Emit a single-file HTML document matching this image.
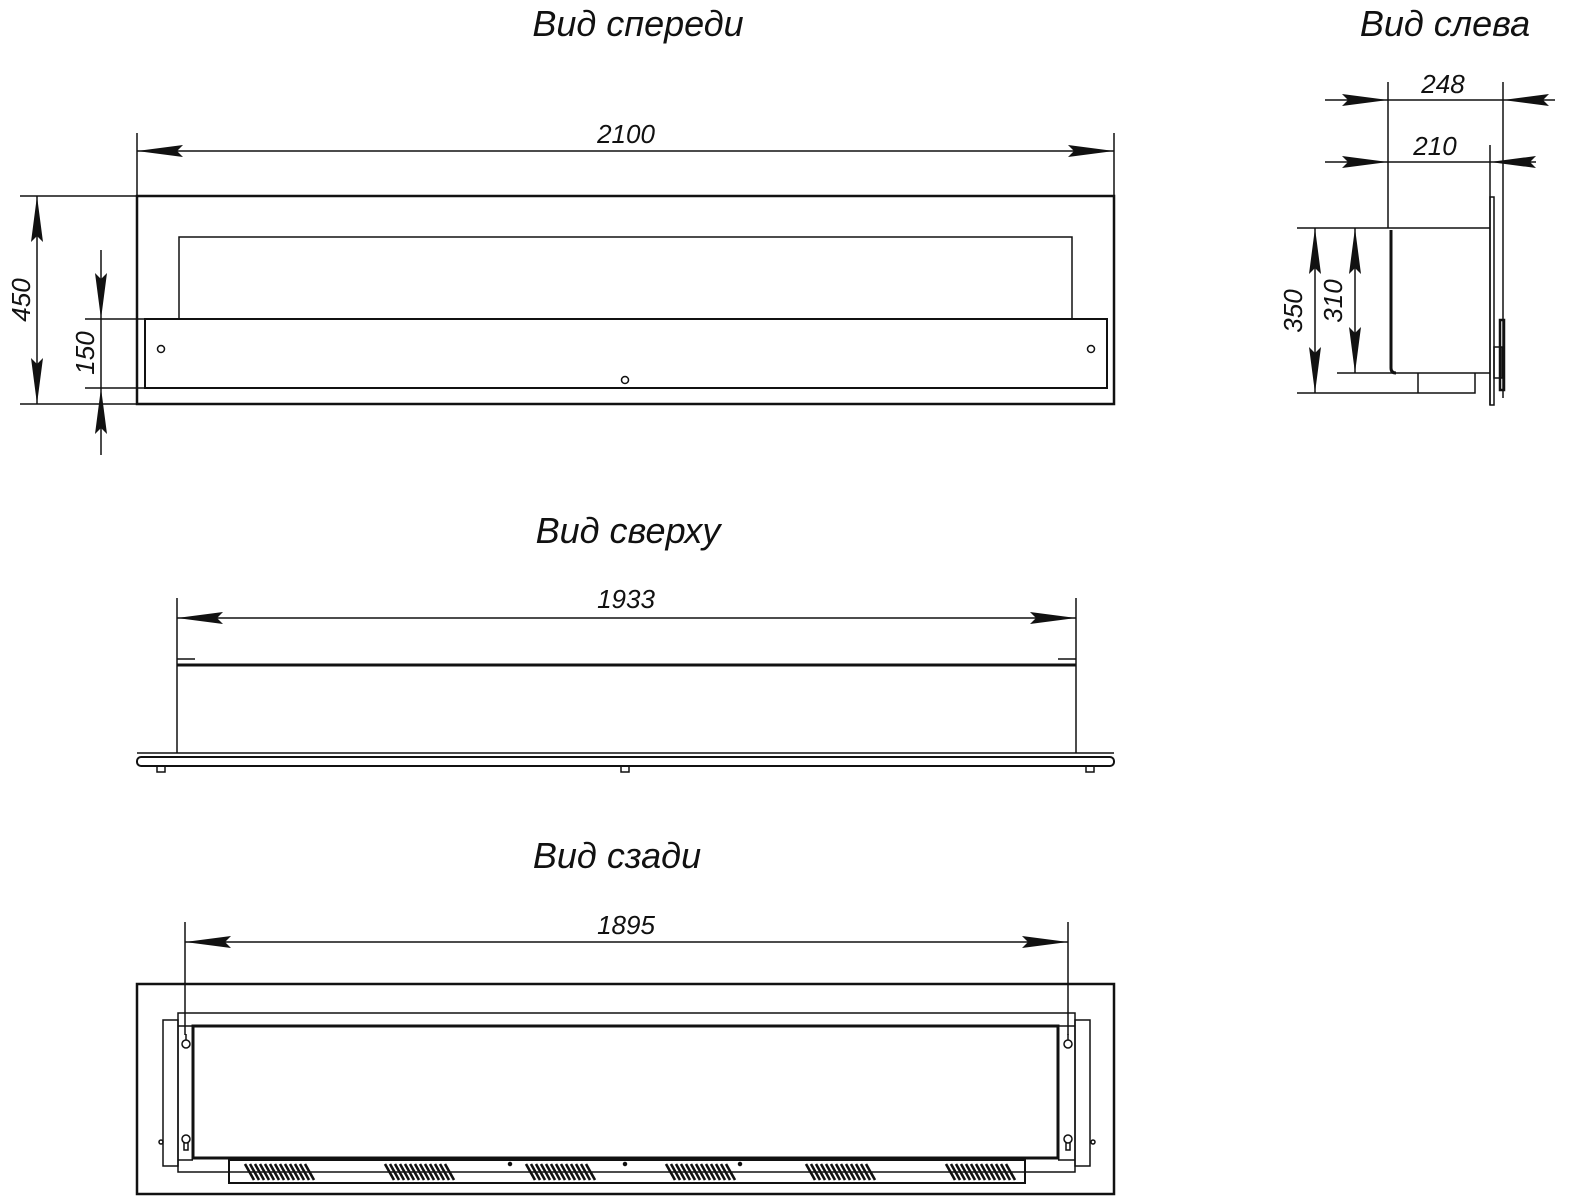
<!DOCTYPE html>
<html><head><meta charset="utf-8"><style>
html,body{margin:0;padding:0;background:#fff;}
svg{display:block;}
text{font-family:"Liberation Sans",sans-serif;font-style:italic;fill:#111;}
.t{font-size:36px;}
.d{font-size:26px;}
</style></head><body>
<svg width="1574" height="1200" viewBox="0 0 1574 1200" xmlns="http://www.w3.org/2000/svg">
<defs>
<marker id="a" markerUnits="userSpaceOnUse" markerWidth="50" markerHeight="16" refX="46" refY="8" orient="auto-start-reverse">
<path d="M0,2 L46,8 L0,14 L6,8 z" fill="#111"/>
</marker>
</defs>
<g stroke="#111" fill="none" stroke-width="1.5">
<text class="t" x="638" y="36" text-anchor="middle" stroke="none">Вид спереди</text>
<text class="t" x="1445" y="36" text-anchor="middle" stroke="none">Вид слева</text>
<text class="t" x="628" y="543" text-anchor="middle" stroke="none">Вид сверху</text>
<text class="t" x="617" y="868" text-anchor="middle" stroke="none">Вид сзади</text>

<!-- FRONT -->
<rect x="137" y="196" width="977" height="208" stroke-width="2.5"/>
<path d="M179,319 V237 H1072 V319"/>
<rect x="145" y="319" width="962" height="69" stroke-width="2"/>
<circle cx="161" cy="349" r="3.5"/><circle cx="1091" cy="349" r="3.5"/><circle cx="625" cy="380" r="3.5"/>
<path d="M137,133 V196 M1114,133 V196"/>
<line x1="137" y1="151" x2="1114" y2="151" marker-start="url(#a)" marker-end="url(#a)"/>
<text class="d" x="626" y="143" text-anchor="middle" stroke="none">2100</text>
<path d="M20,196 H137 M20,404 H137"/>
<line x1="37" y1="196" x2="37" y2="404" marker-start="url(#a)" marker-end="url(#a)"/>
<text class="d" transform="translate(30,300) rotate(-90)" text-anchor="middle" stroke="none">450</text>
<path d="M85,319 H145 M85,388 H145"/>
<line x1="101" y1="250" x2="101" y2="319" marker-end="url(#a)"/>
<line x1="101" y1="455" x2="101" y2="388" marker-end="url(#a)"/>
<line x1="101" y1="319" x2="101" y2="388"/>
<text class="d" transform="translate(94,353) rotate(-90)" text-anchor="middle" stroke="none">150</text>

<!-- SIDE -->
<path d="M1388,82 V228 M1503,82 V398 M1490,145 V405"/>
<line x1="1325" y1="100" x2="1388" y2="100" marker-end="url(#a)"/>
<line x1="1555" y1="100" x2="1503" y2="100" marker-end="url(#a)"/>
<line x1="1388" y1="100" x2="1503" y2="100"/>
<text class="d" x="1443" y="93" text-anchor="middle" stroke="none">248</text>
<line x1="1325" y1="162" x2="1388" y2="162" marker-end="url(#a)"/>
<line x1="1536" y1="162" x2="1490" y2="162" marker-end="url(#a)"/>
<line x1="1388" y1="162" x2="1490" y2="162"/>
<text class="d" x="1435" y="155" text-anchor="middle" stroke="none">210</text>
<rect x="1490" y="197" width="4" height="208" stroke-width="1.5"/>
<path d="M1297,228 H1490 M1337,373 H1490 M1297,393 H1418 M1418,373 V393 H1475 V373"/>
<path d="M1391,230 V368 Q1391,373 1396,373" stroke-width="3"/>
<rect x="1494" y="347" width="8" height="31"/>
<rect x="1500" y="320" width="4" height="70" stroke-width="2.5"/>
<line x1="1315" y1="228" x2="1315" y2="393" marker-start="url(#a)" marker-end="url(#a)"/>
<text class="d" transform="translate(1302,311) rotate(-90)" text-anchor="middle" stroke="none">350</text>
<line x1="1355" y1="228" x2="1355" y2="373" marker-start="url(#a)" marker-end="url(#a)"/>
<text class="d" transform="translate(1342,301) rotate(-90)" text-anchor="middle" stroke="none">310</text>

<!-- TOP -->
<path d="M177,598 V665 M1076,598 V665"/>
<line x1="177" y1="618" x2="1076" y2="618" marker-start="url(#a)" marker-end="url(#a)"/>
<text class="d" x="626" y="608" text-anchor="middle" stroke="none">1933</text>
<path d="M177,659 H195 M1058,659 H1076"/>
<path d="M177,665 H1076" stroke-width="3"/>
<path d="M177,665 V753 M1076,665 V753"/>
<path d="M137,753 H1114"/>
<rect x="137" y="757" width="977" height="9" rx="4" stroke-width="2"/>
<path d="M157,766 V772 H165 V766 M621,766 V772 H629 V766 M1086,766 V772 H1094 V766"/>

<!-- REAR -->
<rect x="137" y="984" width="977" height="210" stroke-width="2.5"/>
<path d="M185,922 V1035 M1068,922 V1035"/>
<line x1="185" y1="942" x2="1068" y2="942" marker-start="url(#a)" marker-end="url(#a)"/>
<text class="d" x="626" y="934" text-anchor="middle" stroke="none">1895</text>
<rect x="178" y="1013" width="897" height="159"/>
<rect x="163" y="1020" width="15" height="146"/>
<rect x="1075" y="1020" width="15" height="146"/>
<rect x="193" y="1026" width="865" height="132" stroke-width="3"/>
<path d="M178,1026 H193 M178,1160 H193 M1058,1026 H1075 M1058,1160 H1075"/>
<g stroke-width="1.5">
<path d="M186,1034 V1040"/><circle cx="186" cy="1044" r="4"/>
<circle cx="186" cy="1139" r="4"/><path d="M184,1142 V1150 H188 V1142"/>
<path d="M1068,1034 V1040"/><circle cx="1068" cy="1044" r="4"/>
<circle cx="1068" cy="1139" r="4"/><path d="M1066,1142 V1150 H1070 V1142"/>
<circle cx="161" cy="1142" r="2"/><circle cx="1093" cy="1142" r="2"/>
</g>
<rect x="229" y="1160" width="796" height="23" stroke-width="2"/>
<g stroke-width="2.6">
<path id="v" d="M245,1164 l9,16 M250,1164 l9,16 M255,1164 l9,16 M260,1164 l9,16 M265,1164 l9,16 M270,1164 l9,16 M275,1164 l9,16 M280,1164 l9,16 M285,1164 l9,16 M290,1164 l9,16 M295,1164 l9,16 M300,1164 l9,16 M305,1164 l9,16"/>
<use href="#v" x="140"/><use href="#v" x="281"/><use href="#v" x="421"/><use href="#v" x="561"/><use href="#v" x="701"/>
</g>
<circle cx="510" cy="1164" r="1.5" fill="#111"/><circle cx="625" cy="1164" r="1.5" fill="#111"/><circle cx="740" cy="1164" r="1.5" fill="#111"/>
</g>
</svg>
</body></html>
